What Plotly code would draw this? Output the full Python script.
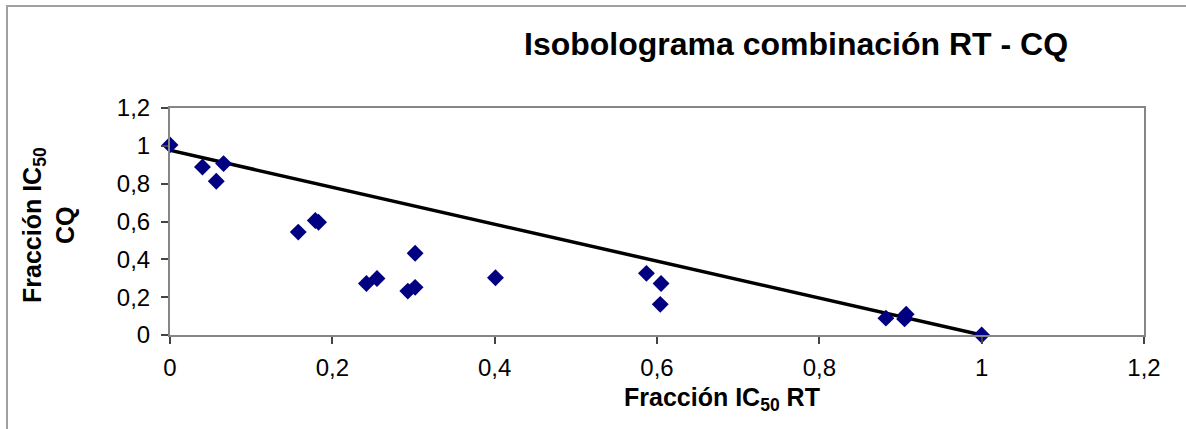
import plotly.graph_objects as go

# Data
frac_rt = [0.0, 0.040, 0.057, 0.066, 0.158, 0.179, 0.183, 0.242, 0.255, 0.293,
           0.302, 0.302, 0.401, 0.587, 0.605, 0.604, 0.882, 0.905, 0.907, 1.0]
frac_cq = [1.005, 0.888, 0.813, 0.906, 0.544, 0.605, 0.596, 0.272, 0.299, 0.232,
           0.252, 0.432, 0.303, 0.326, 0.272, 0.162, 0.089, 0.085, 0.110, 0.0]

# Additivity line (isobole)
line_x = [-0.016, 1.0]
line_y = [0.992, 0.0]

tick_vals = [0, 0.2, 0.4, 0.6, 0.8, 1.0, 1.2]
tick_text = ["0", "0,2", "0,4", "0,6", "0,8", "1", "1,2"]

title_text = "Isobolograma combinación RT - CQ"
x_title = "Fracción IC<sub>50</sub> RT"
y_title = "Fracción IC<sub>50</sub><br>CQ"

FONT = "Liberation Sans, Arial, sans-serif"
AXIS_COLOR = "#868686"

fig = go.Figure()
fig.add_trace(go.Scatter(
    x=line_x, y=line_y, mode="lines",
    line=dict(color="black", width=3.5),
    hoverinfo="skip", showlegend=False,
))
fig.add_trace(go.Scatter(
    x=frac_rt, y=frac_cq, mode="markers",
    marker=dict(symbol="diamond", size=13, color="#000080"),
    cliponaxis=False, showlegend=False,
))

fig.update_layout(
    width=1186, height=429,
    margin=dict(l=170, r=42, t=108, b=94),
    paper_bgcolor="white", plot_bgcolor="white",
    font=dict(family=FONT, color="black"),
    separators=", ",
    showlegend=False,
    annotations=[
        dict(text="<b>" + title_text + "</b>", xref="paper", yref="paper",
             x=(796 - 170) / 974, y=(335 - 44) / 227, xanchor="center", yanchor="middle",
             showarrow=False, font=dict(size=32, family=FONT, color="black")),
        dict(text="<b>" + x_title + "</b>", xref="paper", yref="paper",
             x=(722 - 170) / 974, y=(335 - 399) / 227, xanchor="center", yanchor="middle",
             showarrow=False, font=dict(size=25, family=FONT, color="black")),
        dict(text="<b>" + y_title + "</b>", xref="paper", yref="paper",
             x=(48 - 170) / 974, y=(335 - 225) / 227, xanchor="center", yanchor="middle",
             textangle=-90, showarrow=False, font=dict(size=25, family=FONT, color="black")),
    ],
    shapes=[
        dict(type="rect", xref="paper", yref="paper",
             x0=(7 - 170) / 974, x1=1.3, y0=-0.6, y1=(335 - 6) / 227,
             line=dict(color="#a0a0a0", width=2), layer="below"),
    ],
)

fig.update_xaxes(
    range=[0, 1.2], tickvals=tick_vals, ticktext=tick_text,
    showgrid=False, zeroline=False,
    showline=True, mirror=True, linecolor=AXIS_COLOR, linewidth=2,
    ticks="outside", ticklen=7, tickwidth=1.5, tickcolor="#444",
    ticklabelstandoff=3,
    tickfont=dict(size=24, family=FONT, color="black"),
)
fig.update_yaxes(
    range=[0, 1.2], tickvals=tick_vals, ticktext=tick_text,
    showgrid=False, zeroline=False,
    showline=True, mirror=True, linecolor=AXIS_COLOR, linewidth=2,
    ticks="outside", ticklen=7, tickwidth=1.5, tickcolor="#444",
    ticklabelstandoff=6,
    tickfont=dict(size=24, family=FONT, color="black"),
)

fig.write_html("out.html")
